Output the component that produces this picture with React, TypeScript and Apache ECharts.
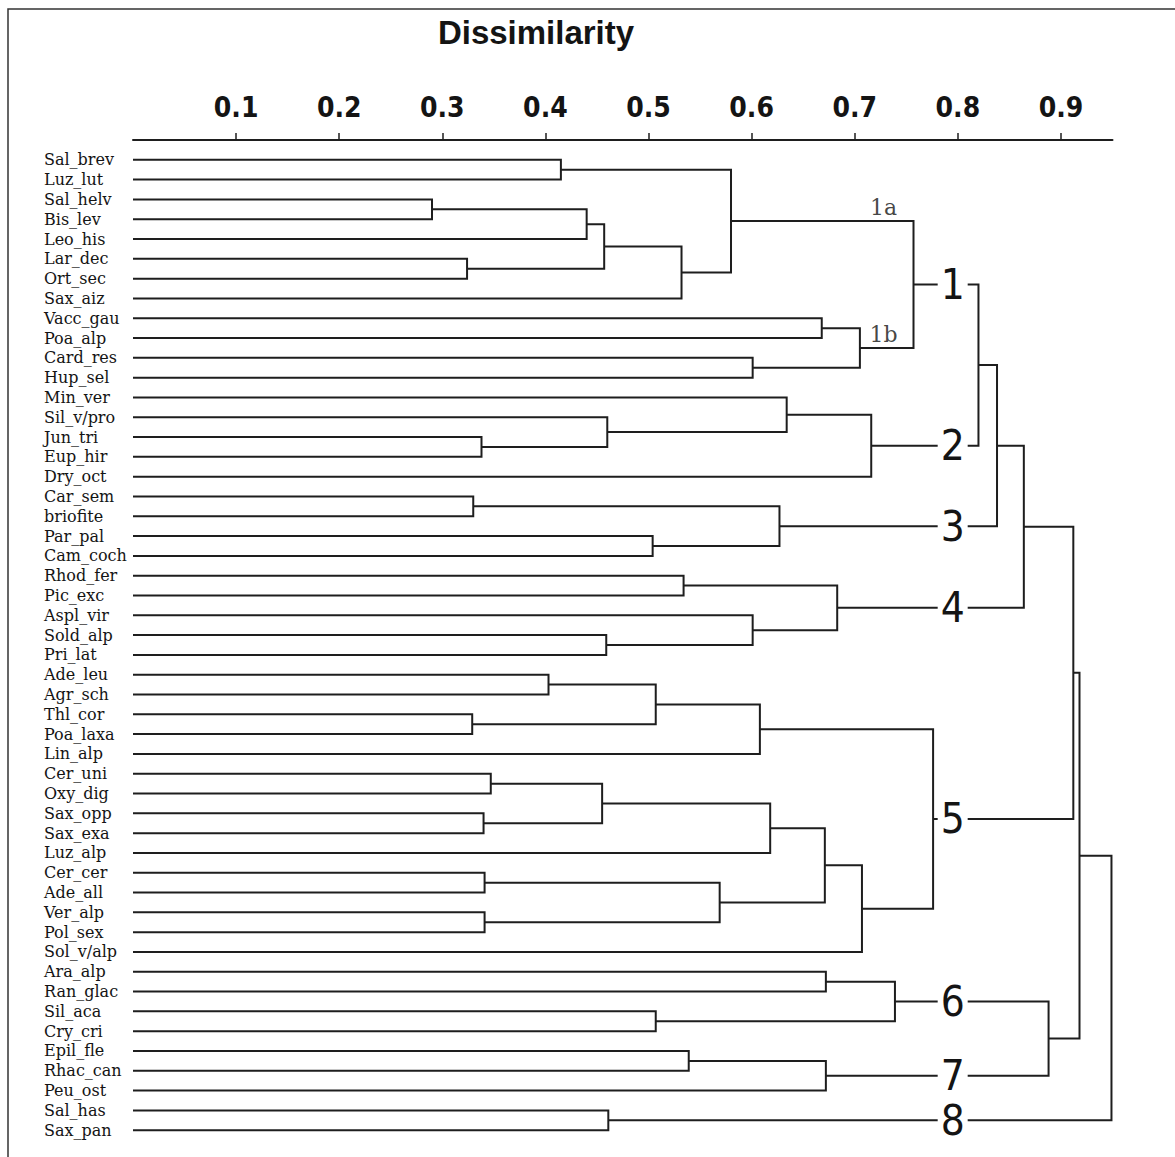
import React, { useEffect, useRef } from "react";
import * as echarts from "echarts";

// Leaf labels, top to bottom
const leaves: string[] = [
  "Sal_brev", "Luz_lut", "Sal_helv", "Bis_lev", "Leo_his", "Lar_dec", "Ort_sec", "Sax_aiz",
  "Vacc_gau", "Poa_alp", "Card_res", "Hup_sel", "Min_ver", "Sil_v/pro", "Jun_tri", "Eup_hir",
  "Dry_oct", "Car_sem", "briofite", "Par_pal", "Cam_coch", "Rhod_fer", "Pic_exc", "Aspl_vir",
  "Sold_alp", "Pri_lat", "Ade_leu", "Agr_sch", "Thl_cor", "Poa_laxa", "Lin_alp", "Cer_uni",
  "Oxy_dig", "Sax_opp", "Sax_exa", "Luz_alp", "Cer_cer", "Ade_all", "Ver_alp", "Pol_sex",
  "Sol_v/alp", "Ara_alp", "Ran_glac", "Sil_aca", "Cry_cri", "Epil_fle", "Rhac_can", "Peu_ost",
  "Sal_has", "Sax_pan",
];

// Merges: [child a, child b, dissimilarity]; new node ids start at leaves.length (50)
const merges: [number, number, number][] = [
  [0, 1, 0.415], // 50
  [2, 3, 0.29], // 51
  [51, 4, 0.44], // 52
  [5, 6, 0.324], // 53
  [52, 53, 0.457], // 54
  [54, 7, 0.532], // 55
  [50, 55, 0.58], // 56 (1a)
  [8, 9, 0.668], // 57
  [10, 11, 0.601], // 58
  [57, 58, 0.705], // 59 (1b)
  [56, 59, 0.757], // 60 cluster 1
  [14, 15, 0.338], // 61
  [13, 61, 0.46], // 62
  [12, 62, 0.634], // 63
  [63, 16, 0.716], // 64 cluster 2
  [17, 18, 0.33], // 65
  [19, 20, 0.504], // 66
  [65, 66, 0.627], // 67 cluster 3
  [21, 22, 0.534], // 68
  [24, 25, 0.459], // 69
  [23, 69, 0.601], // 70
  [68, 70, 0.683], // 71 cluster 4
  [26, 27, 0.403], // 72
  [28, 29, 0.329], // 73
  [72, 73, 0.507], // 74
  [74, 30, 0.608], // 75
  [31, 32, 0.347], // 76
  [33, 34, 0.34], // 77
  [76, 77, 0.455], // 78
  [78, 35, 0.618], // 79
  [36, 37, 0.341], // 80
  [38, 39, 0.341], // 81
  [80, 81, 0.569], // 82
  [79, 82, 0.671], // 83
  [83, 40, 0.707], // 84
  [75, 84, 0.776], // 85 cluster 5
  [41, 42, 0.672], // 86
  [43, 44, 0.507], // 87
  [86, 87, 0.739], // 88 cluster 6
  [45, 46, 0.539], // 89
  [89, 47, 0.672], // 90 cluster 7
  [48, 49, 0.461], // 91 cluster 8
  [60, 64, 0.82], // 92
  [92, 67, 0.838], // 93
  [93, 71, 0.864], // 94
  [94, 85, 0.912], // 95
  [88, 90, 0.888], // 96
  [95, 96, 0.918], // 97
  [97, 91, 0.949], // 98
];

const clusterNodes: number[] = [60, 64, 67, 71, 85, 88, 90, 91];
const clusterNames: string[] = ["1", "2", "3", "4", "5", "6", "7", "8"];
const clusterLabelX = 0.795;
const subNodes: number[] = [56, 59];
const subNames: string[] = ["1a", "1b"];
const subLabelX = 0.728;
const xTicks: number[] = [0.1, 0.2, 0.3, 0.4, 0.5, 0.6, 0.7, 0.8, 0.9];

function buildTree() {
  const pos: number[] = leaves.map((_, i) => i);
  const height: number[] = leaves.map(() => 0);
  const links: { coords: number[][] }[] = [];
  merges.forEach(([a, b, h]) => {
    const ya = pos[a];
    const yb = pos[b];
    links.push({
      coords: [
        [height[a], ya],
        [h, ya],
        [h, yb],
        [height[b], yb],
      ],
    });
    pos.push((ya + yb) / 2);
    height.push(h);
  });
  return { pos, height, links };
}

const LINE = "#1e1e1e";
const NARROW = "'DejaVu Sans Condensed', 'Liberation Sans', Arial, sans-serif";

export default function App() {
  const ref = useRef<HTMLDivElement>(null);
  useEffect(() => {
    if (!ref.current) return;
    const chart = echarts.init(ref.current, undefined, { renderer: "svg" });
    const { pos, links } = buildTree();
    const option: any = {
      animation: false,
      backgroundColor: "#ffffff",
      grid: { left: 133, top: 140, width: 979.5, height: 1010 },
      xAxis: {
        type: "value",
        position: "top",
        min: 0,
        max: 0.95,
        interval: 0.1,
        axisLine: { show: true, onZero: false, lineStyle: { color: LINE, width: 2 } },
        axisTick: {
          show: true,
          length: 7,
          customValues: xTicks,
          lineStyle: { color: LINE, width: 1.5 },
        },
        axisLabel: {
          show: true,
          customValues: xTicks,
          formatter: (v: number) => v.toFixed(1),
          margin: 19,
          fontFamily: NARROW,
          fontWeight: "bold",
          fontSize: 28,
          color: "#141414",
        },
        splitLine: { show: false },
      },
      yAxis: {
        type: "value",
        inverse: true,
        min: -1,
        max: 50,
        interval: 1,
        axisLine: { show: false },
        axisTick: { show: false },
        splitLine: { show: false },
        axisLabel: {
          show: true,
          align: "left",
          margin: 89,
          formatter: (v: number) => {
            const i = Math.round(v);
            return Math.abs(v - i) < 1e-6 && leaves[i] ? leaves[i] : "";
          },
          fontFamily: "'DejaVu Serif', serif",
          fontSize: 16,
          color: "#141414",
        },
      },
      graphic: [
        {
          type: "rect",
          shape: { x: 8, y: 9, width: 1300, height: 1300 },
          style: { fill: "none", stroke: "#333", lineWidth: 1.5 },
          silent: true,
        },
        {
          type: "text",
          x: 536,
          y: 32,
          style: {
            text: "Dissimilarity",
            fontFamily: "'Liberation Sans', Arial, sans-serif",
            fontWeight: "bold",
            fontSize: 33,
            fill: "#141414",
            textAlign: "center",
            textVerticalAlign: "middle",
          },
        },
      ],
      series: [
        {
          type: "lines",
          coordinateSystem: "cartesian2d",
          polyline: true,
          silent: true,
          data: links,
          lineStyle: { color: LINE, width: 2, opacity: 1 },
          z: 2,
        },
        {
          type: "scatter",
          silent: true,
          symbol: "rect",
          symbolSize: [30, 34],
          itemStyle: { color: "#ffffff", opacity: 1 },
          data: clusterNodes.map((id, i) => ({ value: [clusterLabelX, pos[id]], name: clusterNames[i] })),
          label: {
            show: true,
            position: "inside",
            formatter: "{b}",
            fontFamily: NARROW,
            fontSize: 42,
            color: "#141414",
          },
          z: 5,
        },
        {
          type: "scatter",
          silent: true,
          symbolSize: 1,
          itemStyle: { color: "rgba(0,0,0,0)" },
          data: subNodes.map((id, i) => ({ value: [subLabelX, pos[id]], name: subNames[i] })),
          label: {
            show: true,
            position: "top",
            distance: 2,
            formatter: "{b}",
            fontFamily: "'DejaVu Serif', serif",
            fontSize: 22,
            color: "#141414",
          },
          z: 5,
        },
      ],
    };
    chart.setOption(option);
    return () => chart.dispose();
  }, []);
  return (
    <div
      ref={ref}
      style={{ position: "absolute", left: 0, top: 0, width: 1175, height: 1157, background: "#fff" }}
    />
  );
}
